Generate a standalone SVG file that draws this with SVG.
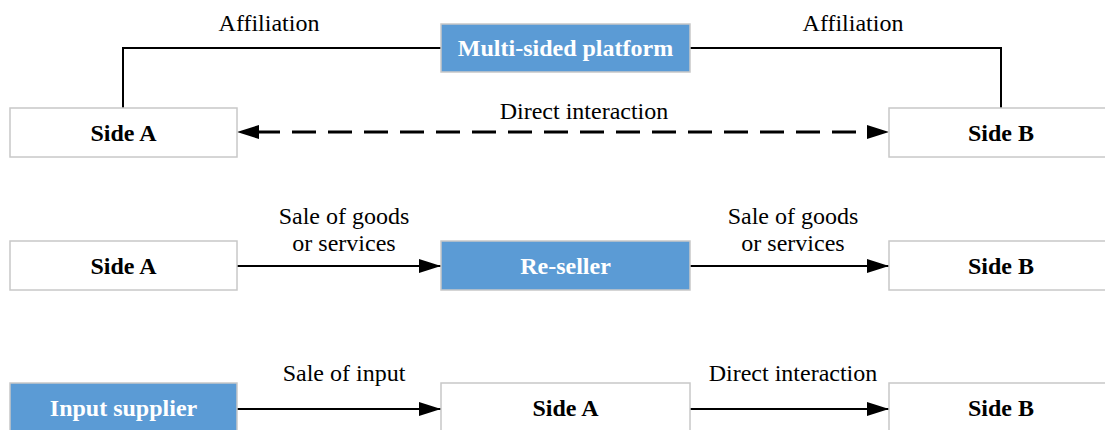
<svg xmlns="http://www.w3.org/2000/svg" width="1105" height="430" viewBox="0 0 1105 430">
  <style>
    .box { fill: #ffffff; stroke: #c8c8c8; stroke-width: 1.5; }
    .hub { fill: #5b9bd5; stroke: #c8c8c8; stroke-width: 1.5; }
    .name { font-family: "Liberation Serif", "Times New Roman", serif; font-weight: bold; font-size: 24px; fill: #000; text-anchor: middle; }
    .hub-name { fill: #ffffff; }
    .label { font-family: "Liberation Serif", "Times New Roman", serif; font-size: 24px; fill: #000; text-anchor: middle; }
    .link { fill: none; stroke: #000; stroke-width: 2; }
    .dash { fill: none; stroke: #000; stroke-width: 3; stroke-dasharray: 24 12; }
  </style>
  <defs>
    <marker id="head" markerUnits="userSpaceOnUse" markerWidth="24" markerHeight="16" refX="22" refY="7" orient="auto">
      <path d="M0,0 L22,7 L0,14 Z" fill="#000"/>
    </marker>
  </defs>

  <rect width="1105" height="430" fill="#ffffff"/>

  <!-- connectors -->
  <g id="connectors">
    <!-- row 1: both sides affiliate with the platform and also interact directly -->
    <polyline class="link" points="123,108 123,48 441,48"/>
    <polyline class="link" points="690,48 1001,48 1001,108"/>
    <line class="dash" x1="256" y1="132" x2="870" y2="132"/>
    <path d="M237,132 L259,125 L259,139 Z" fill="#000"/>
    <path d="M889,132 L867,125 L867,139 Z" fill="#000"/>
    <!-- row 2: goods pass through the re-seller -->
    <line class="link" x1="237" y1="266" x2="441" y2="266" marker-end="url(#head)"/>
    <line class="link" x1="690" y1="266" x2="889" y2="266" marker-end="url(#head)"/>
    <!-- row 3: supplier sells input to side A -->
    <line class="link" x1="237" y1="409" x2="441" y2="409" marker-end="url(#head)"/>
    <line class="link" x1="690" y1="409" x2="889" y2="409" marker-end="url(#head)"/>

    <text class="label" x="269" y="31">Affiliation</text>
    <text class="label" x="853" y="31">Affiliation</text>
    <text class="label" x="584" y="119">Direct interaction</text>
    <text class="label" x="344" y="224">Sale of goods</text>
    <text class="label" x="344" y="251">or services</text>
    <text class="label" x="793" y="224">Sale of goods</text>
    <text class="label" x="793" y="251">or services</text>
    <text class="label" x="344" y="381">Sale of input</text>
    <text class="label" x="793" y="381">Direct interaction</text>
  </g>

  <!-- row 1 -->
  <g id="platform">
    <rect class="hub" x="441" y="24" width="249" height="48"/>
    <text class="name hub-name" x="565.5" y="56">Multi-sided platform</text>
  </g>
  <g id="side-a-1">
    <rect class="box" x="10" y="108" width="227" height="49"/>
    <text class="name" x="123.5" y="141">Side A</text>
  </g>
  <g id="side-b-1">
    <rect class="box" x="889" y="108" width="227" height="49"/>
    <text class="name" x="1001" y="141">Side B</text>
  </g>

  <!-- row 2 -->
  <g id="side-a-2">
    <rect class="box" x="10" y="241" width="227" height="49"/>
    <text class="name" x="123.5" y="274">Side A</text>
  </g>
  <g id="reseller">
    <rect class="hub" x="441" y="241" width="249" height="49"/>
    <text class="name hub-name" x="565.5" y="274">Re-seller</text>
  </g>
  <g id="side-b-2">
    <rect class="box" x="889" y="241" width="227" height="49"/>
    <text class="name" x="1001" y="274">Side B</text>
  </g>

  <!-- row 3 -->
  <g id="input-supplier">
    <rect class="hub" x="10" y="383" width="227" height="49"/>
    <text class="name hub-name" x="123.5" y="416">Input supplier</text>
  </g>
  <g id="side-a-3">
    <rect class="box" x="441" y="383" width="249" height="49"/>
    <text class="name" x="565.5" y="416">Side A</text>
  </g>
  <g id="side-b-3">
    <rect class="box" x="889" y="383" width="227" height="49"/>
    <text class="name" x="1001" y="416">Side B</text>
  </g>
</svg>
